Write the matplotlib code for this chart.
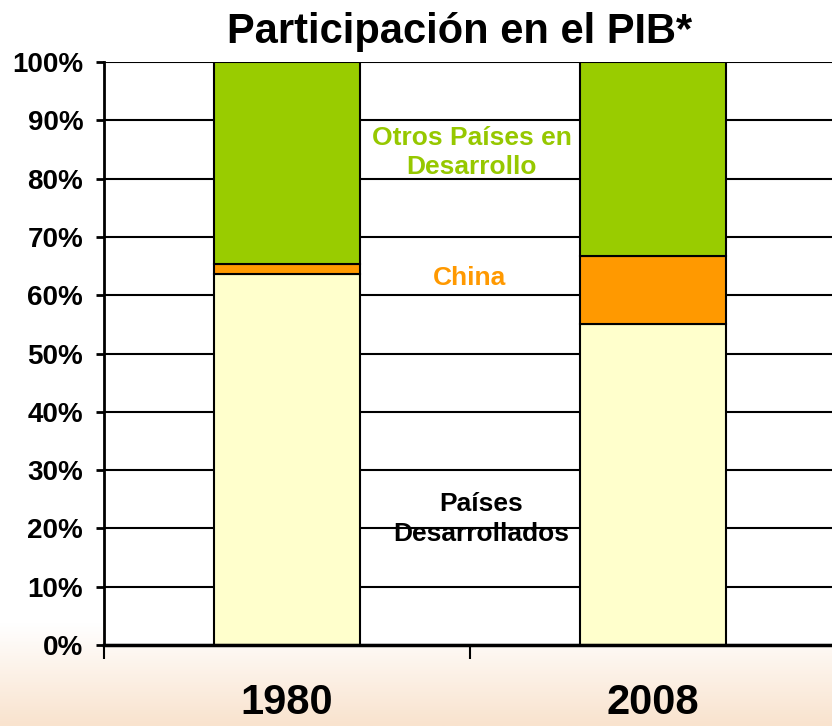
import numpy as np
import matplotlib.pyplot as plt
from matplotlib.colors import LinearSegmentedColormap

plt.rcParams['font.family'] = ['Liberation Sans', 'DejaVu Sans']
plt.rcParams['font.weight'] = 'bold'

years = ['1980', '2008']
desarrollados = [63.6, 55.1]
china = [1.8, 11.6]
otros = [34.6, 33.3]

col_des = '#ffffcc'
col_china = '#ff9900'
col_otros = '#99cc00'

fig = plt.figure(figsize=(8.32, 7.26), dpi=100)

# background: white fading to light peach at the bottom
bg = fig.add_axes([0, 0, 1, 1], zorder=-10)
grad = np.linspace(0, 1, 300).reshape(-1, 1)
grad = np.clip((grad - 0.86) / 0.14, 0, 1)
cmap = LinearSegmentedColormap.from_list('bg', ['#ffffff', '#f9e3ce'])
bg.imshow(grad, aspect='auto', cmap=cmap, extent=[0, 1, 0, 1], origin='upper')
bg.axis('off')

ax = fig.add_axes([104 / 832, 81 / 726, 732 / 832, 583 / 726])
ax.set_facecolor('white')

x = np.array([0.5, 1.5])
w = 0.4
lw = 1.5
ax.bar(x, desarrollados, w, color=col_des, edgecolor='black', linewidth=lw, zorder=3)
ax.bar(x, china, w, bottom=desarrollados, color=col_china, edgecolor='black', linewidth=lw, zorder=3)
bot2 = np.array(desarrollados) + np.array(china)
ax.bar(x, otros, w, bottom=bot2, color=col_otros, edgecolor='black', linewidth=lw, zorder=3)

ax.set_xlim(0, 2)
ax.set_ylim(0, 100)
ax.set_yticks(np.arange(0, 101, 10))
ax.set_yticklabels([f'{v}%' for v in range(0, 101, 10)], fontsize=20, fontweight='bold')
ax.yaxis.grid(True, color='black', linewidth=1.5, zorder=1)
ax.set_axisbelow(True)

ax.set_xticks(x)
ax.set_xticklabels(years, fontsize=30, fontweight='bold')
ax.set_xticks([0, 1, 2], minor=True)
ax.tick_params(axis='x', which='major', length=0, pad=27)
ax.tick_params(axis='x', which='minor', length=10, width=1.5, direction='out')
ax.tick_params(axis='y', length=6, width=2, direction='out', pad=9)

for s in ['top', 'right']:
    ax.spines[s].set_visible(False)
ax.spines['left'].set_linewidth(2)
ax.spines['bottom'].set_linewidth(2.5)
ax.spines['bottom'].set_zorder(5)

ax.text(1.005, 84.5, 'Otros Países en\nDesarrollo', ha='center', va='center',
        fontsize=19, fontweight='bold', color='#96c800', linespacing=1.3, zorder=6)
ax.text(1.0, 63.0, 'China', ha='center', va='center',
        fontsize=19, fontweight='bold', color=col_china, zorder=6)
ax.text(1.03, 21.6, 'Países\nDesarrollados', ha='center', va='center',
        fontsize=19, fontweight='bold', color='black', linespacing=1.3, zorder=6)

fig.text(460 / 832, 1 - 32 / 726, 'Participación en el PIB*', ha='center', va='center',
         fontsize=30, fontweight='bold')

fig.savefig('out.png', dpi=100)
